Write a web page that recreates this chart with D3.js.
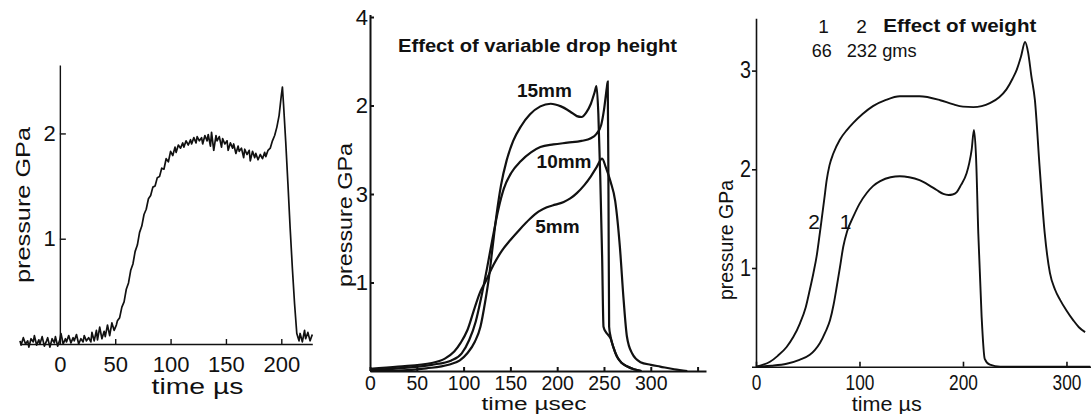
<!DOCTYPE html>
<html>
<head>
<meta charset="utf-8">
<script src="https://cdn.jsdelivr.net/npm/d3@7"></script>
<style>
body { margin: 0; background: #fff; }
svg text { font-family: "Liberation Sans", Arial, sans-serif; fill: #111; }
</style>
</head>
<body>
<script>
//Width and height
var w = 1091;
var h = 414;

// left panel: recorded trace, [time us, pressure GPa]
var traceA = [
  [-36,0.03],[-35,-0.01],[-33,0.06],[-31,0.00],[-29,0.03],[-28,-0.03],[-26,0.05],[-24,0.02],
  [-23,0.08],[-21,-0.01],[-19,0.04],[-18,0.00],[-16,0.07],[-14,-0.02],[-12,0.03],[-11,0.06],
  [-9,-0.03],[-7,0.05],[-5,0.01],[-4,0.07],[-2,-0.02],[0,0.04],[1,0.10],[3,0.00],[5,0.05],
  [6,0.02],[8,0.08],[10,0.01],[12,0.06],[13,0.03],[15,0.09],[17,0.00],[19,0.05],[21,0.02],
  [22,0.08],[24,0.03],[26,0.06],[28,0.02],[29,0.11],[31,0.03],[33,0.13],[34,0.04],[36,0.16],
  [38,0.05],[40,0.12],[41,0.07],[43,0.18],[45,0.08],[47,0.20],[49,0.13],[51,0.18],[52,0.22],
  [54,0.25],[56,0.35],[58,0.40],[60,0.52],[62,0.58],[64,0.70],[66,0.76],[68,0.88],[70,0.94],
  [72,1.06],[74,1.12],[76,1.23],[78,1.28],[80,1.38],[82,1.41],[84,1.49],[86,1.50],[88,1.58],
  [90,1.59],[92,1.67],[94,1.66],[96,1.76],[98,1.73],[100,1.83],[102,1.79],[104,1.87],
  [105,1.82],[107,1.89],[109,1.86],[111,1.91],[112,1.87],[114,1.93],[116,1.89],[118,1.94],
  [119,1.90],[121,1.96],[123,1.91],[124,1.97],[126,1.93],[128,1.96],[129,1.90],[131,1.98],
  [133,1.93],[134,1.99],[136,1.88],[137,2.01],[139,1.84],[141,1.98],[142,1.93],[144,1.97],
  [146,1.87],[147,1.95],[149,1.90],[151,1.93],[152,1.84],[154,1.91],[156,1.86],[157,1.90],
  [159,1.81],[161,1.88],[162,1.83],[164,1.86],[166,1.77],[167,1.85],[169,1.80],[171,1.84],
  [172,1.74],[174,1.83],[176,1.77],[177,1.81],[179,1.75],[181,1.80],[183,1.76],[185,1.82],
  [186,1.78],[188,1.84],[190,1.86],[192,1.93],[194,1.98],[196,2.06],[198,2.17],[200,2.36],
  [201,2.44],[202,2.28],[204,1.92],[206,1.52],[208,1.10],[210,0.72],[212,0.38],[214,0.10],
  [216,0.03],[217,0.10],[219,0.02],[221,0.13],[222,0.05],[224,0.11],[226,0.03],[228,0.09]
];
var aXTicks = [0, 50, 100, 150, 200];
var aYTicks = [1, 2];

// middle panel: drop height
var dropLabels = ["15mm", "10mm", "5mm"];
var drop15 = [[0,0],[30,0.005],[60,0.03],[84,0.07],[96,0.12],[104,0.2],[112,0.33],[118,0.5],
  [123,0.78],[127,1.05],[131,1.4],[135,1.75],[140,2.1],[146,2.38],[153,2.6],[161,2.76],
  [171,2.9],[182,2.99],[193,3.02],[204,2.99],[214,2.93],[221,2.88],[226,2.87],[231,2.92],
  [236,3.02],[240,3.15],[242,3.22],[244,2.9],[246,2.2],[248,1.3],[249.5,0.5],[252,0.44],
  [255,0.4],[257,0.37],[260,0.27],[264,0.16],[269,0.09],[275,0.05],[282,0.02],[290,0]];
var drop10 = [[0,0.01],[30,0.03],[66,0.07],[87,0.12],[98,0.2],[106,0.35],[113,0.56],[119,0.84],
  [125,1.16],[131,1.5],[137,1.82],[143,2.06],[151,2.24],[161,2.37],[172,2.47],[182,2.53],
  [196,2.56],[211,2.58],[226,2.6],[236,2.63],[242,2.68],[247,2.78],[250,2.95],[253,3.2],
  [254,3.27],[254.8,2.0],[255.5,0.5],[257,0.39],[260,0.27],[264,0.16],[269,0.09],[275,0.05],
  [282,0.02],[290,0]];
var drop5 = [[0,0.025],[30,0.05],[66,0.09],[80,0.14],[90,0.22],[97,0.32],[104,0.46],[112,0.72],
  [118,0.9],[123,1.0],[132,1.2],[141,1.36],[150,1.48],[160,1.6],[171,1.72],[180,1.8],[189,1.85],
  [198,1.88],[207,1.91],[214,1.95],[221,2.01],[229,2.1],[236,2.2],[242,2.3],[248,2.4],[252,2.3],
  [257,2.14],[262,1.92],[267,1.4],[271,0.8],[274.5,0.39],[280,0.2],[289,0.1],[300,0.07],
  [310,0.05],[325,0.02],[339,0]];
var bXTicks = [0, 50, 100, 150, 200, 250, 300, 350];
var bXTickLabels = ["0", "50", "100", "150", "200", "250", "300", ""];
var bYTicks = [1, 2, 3, 4];
var bYTickLabels = ["1", "3", "2", "4"];

// right panel: weight
var weight1 = [[0,0],[15,0.01],[29.6,0.03],[42,0.07],[52,0.12],[57,0.17],[61.8,0.24],[67,0.35],
  [71.5,0.47],[75,0.63],[78,0.81],[81,1.0],[84.4,1.22],[88,1.37],[94,1.52],[100,1.65],[107,1.76],
  [113,1.83],[120,1.88],[130,1.92],[139,1.93],[148,1.92],[158,1.89],[167,1.84],[174.6,1.79],
  [181,1.75],[186,1.74],[190,1.745],[194,1.77],[198,1.84],[203.5,1.96],[206,2.06],[208.4,2.2],
  [210.6,2.4],[212.6,2.13],[214.8,1.35],[218,0.51],[221,0.08],[226,0.02],[236,0],[323,0]];
var weight2 = [[0,0],[7,0.02],[13.5,0.05],[21,0.11],[29.6,0.2],[36,0.3],[42.5,0.44],[48,0.6],
  [52,0.78],[55.5,0.95],[58.6,1.12],[61,1.3],[63.4,1.49],[66,1.7],[68.3,1.89],[71,2.04],
  [74.7,2.16],[81,2.3],[88,2.4],[94,2.47],[103,2.56],[113,2.64],[125,2.7],[139,2.74],[158,2.74],
  [178,2.7],[190,2.66],[200,2.635],[210,2.63],[218,2.64],[226,2.67],[235,2.73],[242,2.81],
  [248,2.92],[252,3.01],[256,3.14],[260,3.29],[263,3.18],[266,2.95],[269.5,2.7],[274,2.03],
  [279,1.35],[284,0.95],[289,0.78],[293.7,0.68],[300,0.57],[306.6,0.47],[312,0.4],[318,0.35]];
var weightKeys = ["1", "2"];
var weightGrams = ["66", "232 gms"];
var cXTicks = [0, 100, 200, 300];
var cYTicks = [1, 2, 3];

var svg = d3.select("body")
            .append("svg")
            .attr("width", w)
            .attr("height", h);

var fmt = d3.format("d");

function styleAxis(g, sw, fs) {
  g.attr("font-size", null).attr("font-family", null);
  g.select(".domain").attr("stroke", "#111").attr("stroke-width", sw);
  g.selectAll(".tick line").attr("stroke", "#111").attr("stroke-width", sw);
  g.selectAll(".tick text").attr("fill", "#111").attr("font-size", fs);
}

// ---------- left panel ----------
var xA = d3.scaleLinear().domain([-36, 228]).range([20, 312.3]);
var yA = d3.scaleLinear().domain([0, 2.65]).range([344, 65]);

var gAx = svg.append("g")
  .attr("transform", "translate(0," + yA(0) + ")")
  .call(d3.axisBottom(xA).tickValues(aXTicks).tickSize(-5).tickSizeOuter(0).tickFormat(fmt));
styleAxis(gAx, 1.4, 22);
gAx.selectAll(".tick text").attr("dy", null).attr("y", 27.5);

var gAy = svg.append("g")
  .attr("transform", "translate(" + xA(0) + ",0)")
  .call(d3.axisLeft(yA).tickValues(aYTicks).tickSize(-6).tickSizeOuter(0).tickPadding(4).tickFormat(fmt));
styleAxis(gAy, 1.4, 22);

svg.append("path")
  .datum(traceA)
  .attr("fill", "none")
  .attr("stroke", "#111")
  .attr("stroke-width", 1.7)
  .attr("stroke-linejoin", "round")
  .attr("d", d3.line().x(function(d) { return xA(d[0]); }).y(function(d) { return yA(d[1]); }));

svg.append("text")
  .attr("transform", "translate(29.5,205) rotate(-90)")
  .attr("text-anchor", "middle")
  .attr("font-size", 21)
  .attr("textLength", 156)
  .attr("lengthAdjust", "spacingAndGlyphs")
  .text("pressure  GPa");

svg.append("text")
  .attr("x", 151.5).attr("y", 394)
  .attr("font-size", 22)
  .attr("textLength", 92)
  .attr("lengthAdjust", "spacingAndGlyphs")
  .text("time  µs");

// ---------- middle panel ----------
var xB = d3.scaleLinear().domain([0, 359]).range([370, 706]);
var yB = d3.scaleLinear().domain([0, 4]).range([371, 17]);

var gBx = svg.append("g")
  .attr("transform", "translate(0," + yB(0) + ")")
  .call(d3.axisBottom(xB).tickValues(bXTicks).tickSize(-4).tickSizeOuter(0)
    .tickFormat(function(d, i) { return bXTickLabels[i]; }));
styleAxis(gBx, 2, 19.5);
gBx.selectAll(".tick text").attr("dy", null).attr("y", 19);

var gBy = svg.append("g")
  .attr("transform", "translate(" + xB(0) + ",0)")
  .call(d3.axisLeft(yB).tickValues(bYTicks).tickSize(-4).tickSizeOuter(0).tickPadding(2)
    .tickFormat(function(d, i) { return bYTickLabels[i]; }));
styleAxis(gBy, 2, 22);
gBy.select(".domain").attr("d", "M0.5," + (yB(4) - 2) + "V" + yB(0));

var lineB = d3.line()
  .curve(d3.curveMonotoneX)
  .x(function(d) { return xB(d[0]); })
  .y(function(d) { return yB(d[1]); });

[drop15, drop10, drop5].forEach(function(series) {
  svg.append("path")
    .datum(series)
    .attr("fill", "none")
    .attr("stroke", "#111")
    .attr("stroke-width", 2.2)
    .attr("d", lineB);
});

var dropLabelPos = [[157, 3.1], [178, 2.29], [176.5, 1.56]];
svg.selectAll("text.droplabel")
  .data(dropLabels)
  .enter()
  .append("text")
  .attr("class", "droplabel")
  .attr("x", function(d, i) { return xB(dropLabelPos[i][0]); })
  .attr("y", function(d, i) { return yB(dropLabelPos[i][1]); })
  .attr("font-size", 19)
  .attr("font-weight", "bold")
  .text(function(d) { return d; });

svg.append("text")
  .attr("x", 398).attr("y", 51.5)
  .attr("font-size", 19)
  .attr("font-weight", "bold")
  .attr("textLength", 279)
  .attr("lengthAdjust", "spacingAndGlyphs")
  .text("Effect of variable drop height");

svg.append("text")
  .attr("transform", "translate(352,215) rotate(-90)")
  .attr("text-anchor", "middle")
  .attr("font-size", 21)
  .attr("textLength", 144)
  .attr("lengthAdjust", "spacingAndGlyphs")
  .text("pressure  GPa");

svg.append("text")
  .attr("x", 481.5).attr("y", 410)
  .attr("font-size", 17.5)
  .attr("textLength", 105)
  .attr("lengthAdjust", "spacingAndGlyphs")
  .text("time  µsec");

// ---------- right panel ----------
var xC = d3.scaleLinear().domain([0, 323.7]).range([756, 1091]);
var yC = d3.scaleLinear().domain([0, 3.53]).range([366.7, 18.3]);

var gCx = svg.append("g")
  .attr("transform", "translate(0," + yC(0) + ")")
  .call(d3.axisBottom(xC).tickValues(cXTicks).tickSize(-5).tickSizeOuter(0).tickFormat(fmt));
styleAxis(gCx, 1.6, 22);
gCx.select(".domain").attr("d", "M752,0.5H1091");
gCx.selectAll(".tick text")
  .attr("dy", null).attr("y", 23)
  .attr("textLength", function(d) { return String(d).length * 9.6; })
  .attr("lengthAdjust", "spacingAndGlyphs");

var gCy = svg.append("g")
  .attr("transform", "translate(" + xC(0) + ",0)")
  .call(d3.axisLeft(yC).tickValues(cYTicks).tickSize(4).tickSizeOuter(0).tickPadding(1).tickFormat(fmt));
styleAxis(gCy, 1.6, 23);
gCy.selectAll(".tick text")
  .attr("textLength", 11)
  .attr("lengthAdjust", "spacingAndGlyphs");

var lineC = d3.line()
  .curve(d3.curveMonotoneX)
  .x(function(d) { return xC(d[0]); })
  .y(function(d) { return yC(d[1]); });

[weight1, weight2].forEach(function(series) {
  svg.append("path")
    .datum(series)
    .attr("fill", "none")
    .attr("stroke", "#111")
    .attr("stroke-width", 1.9)
    .attr("d", lineC);
});

// curve labels
svg.append("text").attr("x", xC(50.5)).attr("y", yC(1.4)).attr("font-size", 21).text(weightKeys[1]);
svg.append("text").attr("x", xC(81)).attr("y", yC(1.4)).attr("font-size", 21).text(weightKeys[0]);

// legend
svg.append("text").attr("x", 823.5).attr("y", 33).attr("text-anchor", "middle")
  .attr("font-size", 19).text(weightKeys[0]);
svg.append("text").attr("x", 861.5).attr("y", 33).attr("text-anchor", "middle")
  .attr("font-size", 19).text(weightKeys[1]);
svg.append("text").attr("x", 883.3).attr("y", 31.7)
  .attr("font-size", 19).attr("font-weight", "bold")
  .attr("textLength", 153).attr("lengthAdjust", "spacingAndGlyphs")
  .text("Effect of weight");
svg.append("text").attr("x", 811.7).attr("y", 56.7)
  .attr("font-size", 19).attr("textLength", 20).attr("lengthAdjust", "spacingAndGlyphs")
  .text(weightGrams[0]);
svg.append("text").attr("x", 846.7).attr("y", 56.7)
  .attr("font-size", 19).attr("textLength", 70).attr("lengthAdjust", "spacingAndGlyphs")
  .text(weightGrams[1]);

svg.append("text")
  .attr("transform", "translate(733,240) rotate(-90)")
  .attr("text-anchor", "middle")
  .attr("font-size", 20)
  .attr("textLength", 120)
  .attr("lengthAdjust", "spacingAndGlyphs")
  .text("pressure GPa");

svg.append("text")
  .attr("x", 851.7).attr("y", 411)
  .attr("font-size", 21)
  .attr("textLength", 70)
  .attr("lengthAdjust", "spacingAndGlyphs")
  .text("time  µs");
</script>
</body>
</html>
